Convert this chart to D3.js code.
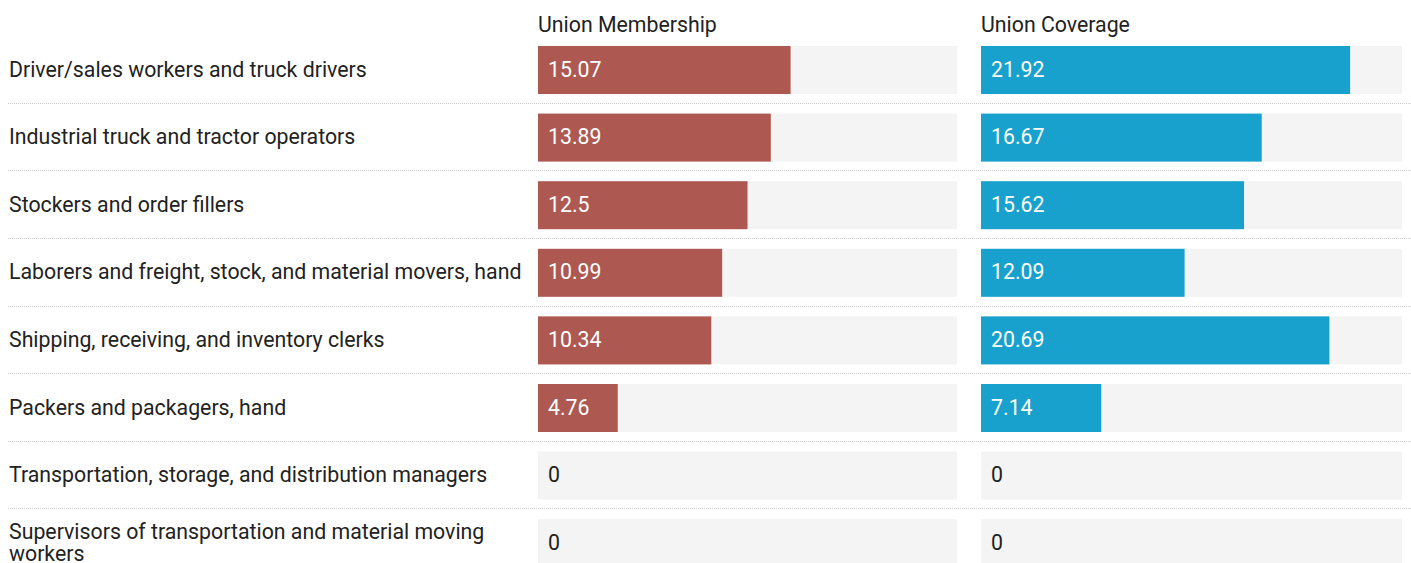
<!DOCTYPE html>
<html><head><meta charset="utf-8">
<script src="https://cdn.jsdelivr.net/npm/d3@7"></script>
<style>
html,body{margin:0;padding:0;background:#fff;}
svg{display:block;font-family:Roboto, "Noto Sans", sans-serif;}
</style></head>
<body>
<svg id="c" width="1411" height="563"></svg>
<script>
const categories = [
  "Driver/sales workers and truck drivers",
  "Industrial truck and tractor operators",
  "Stockers and order fillers",
  "Laborers and freight, stock, and material movers, hand",
  "Shipping, receiving, and inventory clerks",
  "Packers and packagers, hand",
  "Transportation, storage, and distribution managers",
  "Supervisors of transportation and material moving workers"
];
const membership = [15.07, 13.89, 12.5, 10.99, 10.34, 4.76, 0, 0];
const coverage = [21.92, 16.67, 15.62, 12.09, 20.69, 7.14, 0, 0];
const columnTitles = ["Union Membership", "Union Coverage"];
const columnColors = ["#ad5951", "#18a1cd"];

const svg = d3.select("#c");
const W = 1411;
const FS = 21.3;
const rowY = d3.scaleLinear().domain([0, 1]).range([46, 113.6]);
const barH = 48;

const cols = [
  {title: columnTitles[0], values: membership, color: columnColors[0], x0: 538, x1: 957},
  {title: columnTitles[1], values: coverage, color: columnColors[1], x0: 981, x1: 1402}
];

// separators
for (let i = 0; i < categories.length - 1; i++) {
  const y = Math.round((rowY(i) + barH + rowY(i + 1)) / 2) - 0.5;
  svg.append("line").attr("x1", 8).attr("x2", W).attr("y1", y).attr("y2", y)
    .attr("stroke", "#cfcfcf").attr("stroke-width", 1).attr("stroke-dasharray", "1,1");
}

// labels
categories.forEach((c, i) => {
  const cy = rowY(i) + barH / 2;
  const t = svg.append("text").attr("x", 9).attr("font-size", FS).attr("fill", "#222");
  const words = c.split(" ");
  let lines = [], cur = [];
  const tmp = svg.append("text").attr("font-size", FS).attr("visibility", "hidden");
  words.forEach(w => {
    const test = cur.concat([w]).join(" ");
    tmp.text(test);
    if (tmp.node().getComputedTextLength() > 522 && cur.length) { lines.push(cur.join(" ")); cur = [w]; }
    else cur.push(w);
  });
  lines.push(cur.join(" "));
  tmp.remove();
  const lh = 22;
  lines.forEach((l, k) => {
    t.append("tspan").attr("x", 9)
      .attr("y", cy + 6.5 + (k - (lines.length - 1) / 2) * lh)
      .text(l);
  });
});

cols.forEach(col => {
  const x = d3.scaleLinear().domain([0, 25]).range([col.x0, col.x1]);
  svg.append("text").attr("x", col.x0).attr("y", 31.5).attr("font-size", FS)
    .attr("fill", "#222").text(col.title);
  const g = svg.append("g");
  g.selectAll("rect.bg").data(col.values).join("rect").attr("class", "bg")
    .attr("x", x(0)).attr("width", x(25) - x(0))
    .attr("y", (d, i) => rowY(i)).attr("height", barH).attr("fill", "#f4f4f4");
  g.selectAll("rect.bar").data(col.values).join("rect").attr("class", "bar")
    .attr("x", x(0)).attr("width", d => x(d) - x(0))
    .attr("y", (d, i) => rowY(i)).attr("height", barH).attr("fill", col.color);
  g.selectAll("text").data(col.values).join("text")
    .attr("x", x(0) + 10).attr("y", (d, i) => rowY(i) + barH / 2 + 6.5)
    .attr("font-size", FS).attr("fill", d => d > 0 ? "#fff" : "#222")
    .text(d => String(d));
});
</script>
</body></html>
